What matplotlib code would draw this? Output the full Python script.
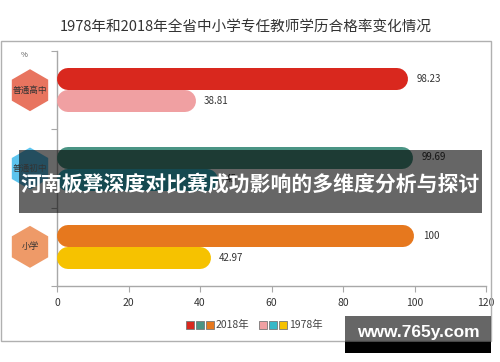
import matplotlib
matplotlib.use("Agg")
import matplotlib.pyplot as plt
from matplotlib.patches import RegularPolygon, Rectangle

plt.rcParams['font.family'] = ['Noto Sans CJK SC', 'DejaVu Sans']

title = "1978年和2018年全省中小学专任教师学历合格率变化情况"
categories = ["普通高中", "普通初中", "小学"]
values_2018 = [98.23, 99.69, 100]
values_1978 = [38.81, 45.0, 42.97]
colors_2018 = ["#D9281E", "#4A9484", "#E6781E"]
colors_1978 = ["#F0A0A2", "#35B8C8", "#F6C200"]
hex_colors = ["#E8745F", "#5CC4EE", "#EE9A68"]
xticks = [0, 20, 40, 60, 80, 100, 120]
legend_labels = ["2018年", "1978年"]
banner_text = "河南板凳深度对比赛成功影响的多维度分析与探讨"
watermark_text = "www.765y.com"

W, H = 500, 362
fig = plt.figure(figsize=(W / 100, H / 100), dpi=100)
fig.patch.set_facecolor("white")

def fx(px):
    return px / W

def fy(py):
    return 1 - py / H

# main axes
ax_l, ax_r, ax_t, ax_b = 57, 486, 51, 286
ax = fig.add_axes([fx(ax_l), fy(ax_b), fx(ax_r - ax_l), (ax_b - ax_t) / H])
ax.set_xlim(0, 120)
ax.set_ylim(3, 0)
ax.set_facecolor("none")
for s in ["top", "right"]:
    ax.spines[s].set_visible(False)
for s in ["left", "bottom"]:
    ax.spines[s].set_color("#A8A8A8")
    ax.spines[s].set_linewidth(1.0)
ax.set_xticks(xticks)
ax.set_xticklabels([str(t) for t in xticks], fontsize=7.5, color="#333333")
ax.set_yticks([0, 1, 2, 3])
ax.set_yticklabels([])
ax.tick_params(axis="x", length=4, color="#A8A8A8", pad=5)
ax.tick_params(axis="y", length=4, color="#A8A8A8")

bar_px = 22
lw_pt = bar_px * 72 / 100
px_per_unit = (ax_r - ax_l) / 120
r_units = (bar_px / 2) / px_per_unit
bh = bar_px / ((ax_b - ax_t) / 3)

for i, cat in enumerate(categories):
    yc = i + 0.5
    for v, col, yy in [(values_2018[i], colors_2018[i], yc - bh / 2),
                       (values_1978[i], colors_1978[i], yc + bh / 2)]:
        ax.plot([r_units, v - r_units], [yy, yy], color=col, lw=lw_pt,
                solid_capstyle="round", zorder=3)
        ax.annotate(f"{v:g}", (v, yy), xytext=(6, 0), textcoords="offset points",
                    ha="left", va="center", fontsize=7, color="#333333")

# decoration axes in pixel coords
deco = fig.add_axes([0, 0, 1, 1], zorder=5)
deco.set_xlim(0, W)
deco.set_ylim(H, 0)
deco.axis("off")
deco.patch.set_alpha(0)

deco.add_patch(Rectangle((1, 41), 490, 300, fill=False, ec="#B0B0B0", lw=1.0))
deco.text(246, 27, title, ha="center", va="center", fontsize=10.5, color="#333333")
deco.text(24, 55, "%", ha="center", va="center", fontsize=5.5, color="#555555")

row_h = (ax_b - ax_t) / 3
for i, cat in enumerate(categories):
    cy = ax_t + row_h * (i + 0.5)
    deco.add_patch(RegularPolygon((30, cy), numVertices=6, radius=21,
                                  orientation=0, fc=hex_colors[i], ec="none"))
    deco.text(30, cy, cat, ha="center", va="center", fontsize=6.2, color="#333333")

# legend
ly = 325
groups = [(186, colors_2018, legend_labels[0]), (259, colors_1978, legend_labels[1])]
for x0, cols, lab in groups:
    for k, c in enumerate(cols):
        deco.add_patch(Rectangle((x0 + k * 10, ly - 4), 8, 8, fc=c, ec="#777777", lw=0.6))
    deco.text(x0 + 30, ly, lab, ha="left", va="center", fontsize=7.5, color="#444444")

# banner overlay
deco.add_patch(Rectangle((19, 150), 463, 63, fc="black", alpha=0.6, ec="none"))
deco.text(250, 184, banner_text, ha="center", va="center", fontsize=15,
          color="white", fontweight="bold")

# watermark
deco.add_patch(Rectangle((345, 316), 146, 26, fc="black", alpha=0.6, ec="none"))
deco.add_patch(Rectangle((345, 342), 146, 11, fc="black", ec="none"))
deco.text(418, 333, watermark_text, ha="center", va="center", fontsize=12.5,
          color="white", fontweight="bold", family=["Liberation Sans", "DejaVu Sans"])

fig.savefig("out.png", dpi=100)
